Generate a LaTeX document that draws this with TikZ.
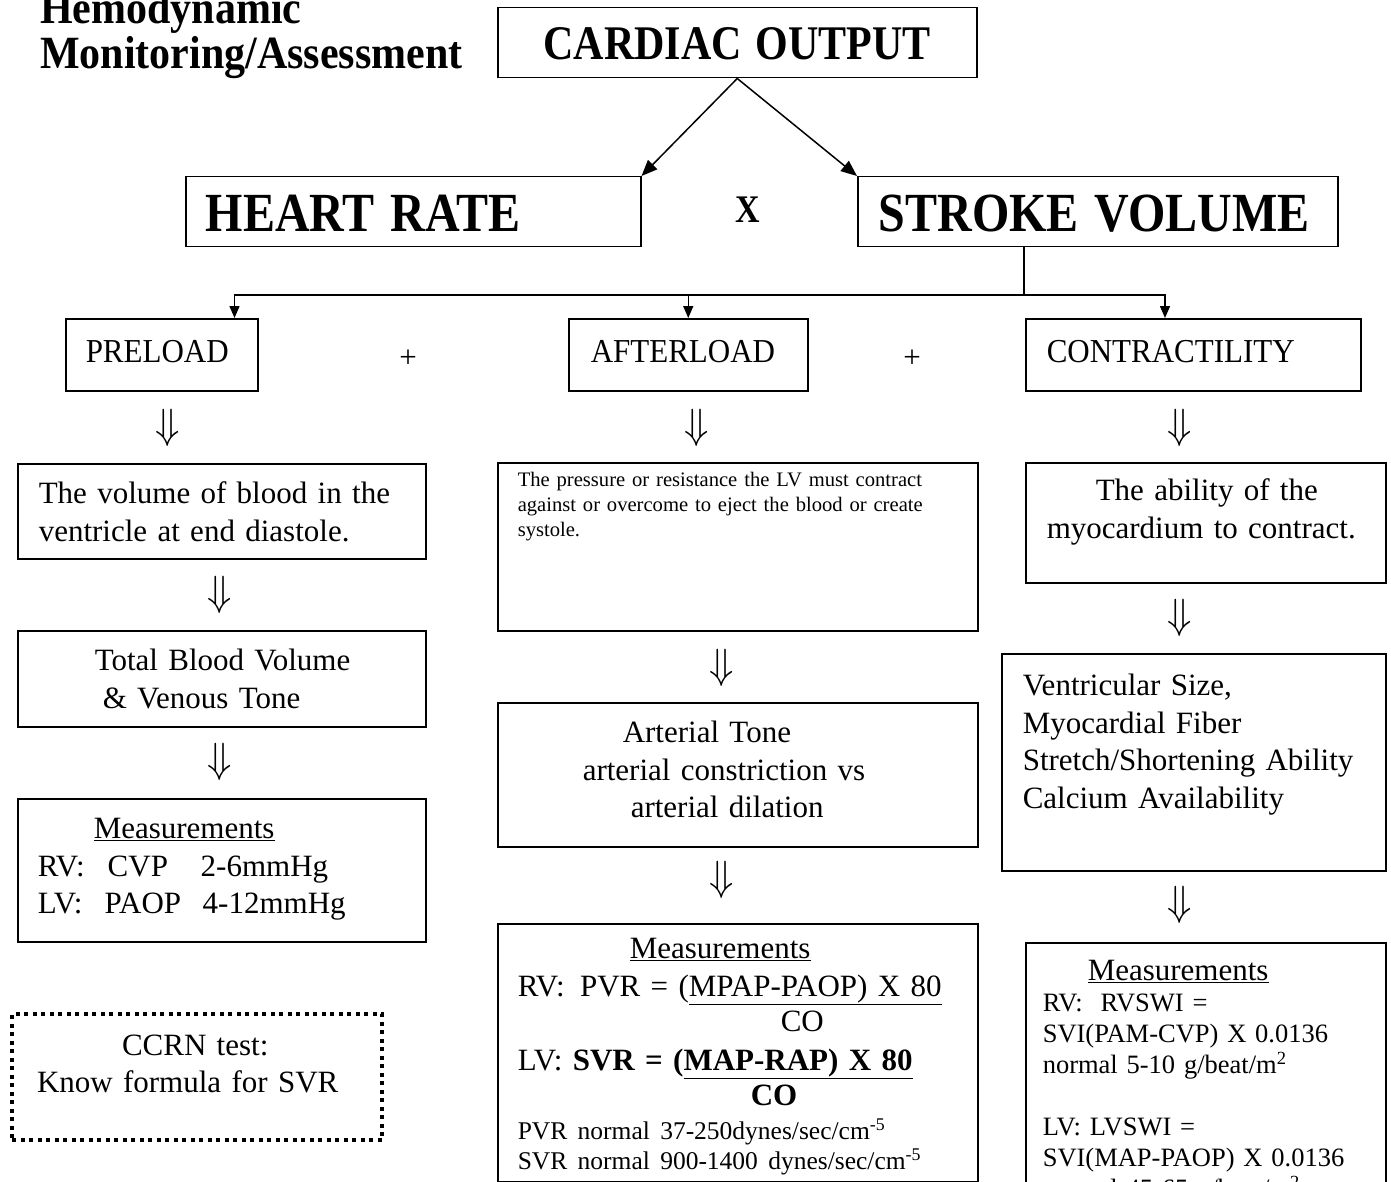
\documentclass[tikz,border=0pt]{standalone}
\usepackage{fontspec}
\setmainfont{Liberation Serif}
\usetikzlibrary{arrows.meta}
\newcommand{\tallText}[2][1.15]{\scalebox{1}[#1]{#2}}

\begin{document}
\begin{tikzpicture}[x=1pt,y=-1pt,
    box/.style={draw, line width=1.5pt, anchor=north west, inner ysep=0pt, align=left,
      font=\fontsize{31}{37.5}\selectfont},
    headbox/.style={box, font=\bfseries\fontsize{48}{52}\selectfont},
    dotbox/.style={box, line width=4pt, dash pattern=on 4pt off 4.5pt},
    dn/.style={inner sep=0pt, font=\fontsize{24.88}{26}\selectfont},
    plain/.style={inner sep=0pt, font=\fontsize{31}{37}\selectfont},
    link/.style={line width=1.5pt, -{Triangle[length=12pt,width=10pt]}},
    bigLink/.style={line width=1.5pt, -{Triangle[length=16pt,width=13pt]}}]
    \useasboundingbox (0,0) rectangle (1391,1182);
    \clip (0,0) rectangle (1391,1182);

    %Title
    \node[anchor=north west, inner sep=0pt, align=left, text width=520pt, text height=23pt,
      font=\bfseries\fontsize{42}{45}\selectfont] (title) at (40,0)
      {\tallText[1.1]{Hemodynamic}\\\tallText[1.1]{Monitoring/Assessment}};

    %Top
    \node[box, align=center, inner xsep=10pt, text width=459pt, text height=52pt, text depth=18pt,
      font=\bfseries\fontsize{42}{46}\selectfont] (co) at (497,7) {\tallText{CARDIAC OUTPUT}};
    \node[headbox, inner xsep=20pt, text width=415pt, text height=55pt, text depth=15pt] (hr) at (185,176) {\tallText{HEART RATE}};
    \node[headbox, inner xsep=21pt, text width=438pt, text height=55pt, text depth=15pt] (sv) at (857,176) {\tallText{STROKE VOLUME}};
    \node[inner sep=0pt, font=\bfseries\fontsize{34}{34}\selectfont] (times) at (748,210) {\tallText{X}};

    \draw[bigLink] (co.south) -- (hr.north east);
    \draw[bigLink] (co.south) -- (sv.north west);

    %Second row
    \node[box, inner xsep=20pt, text width=152pt, text height=44pt, text depth=28pt] (preload) at (65,318) {\tallText[1.08]{PRELOAD}};
    \node[box, inner xsep=22pt, text width=195pt, text height=44pt, text depth=28pt] (afterload) at (568,318) {\tallText[1.08]{AFTERLOAD}};
    \node[box, inner xsep=21pt, text width=293pt, text height=44pt, text depth=28pt] (contract) at (1025,318) {\tallText[1.08]{CONTRACTILITY}};
    \node[plain] (plusA) at (408,359) {+};
    \node[plain] (plusB) at (912,359) {+};

    \coordinate (fork) at (1024,295);
    \draw[line width=1.5pt] (fork |- sv.south) -- (fork);
    \draw[link] (fork) -| ([xshift=-24pt]preload.north east);
    \draw[link] (fork) -| (afterload.north);
    \draw[link] (fork) -| ([xshift=140pt]contract.north west);

    %Left side
    \node[dn] (dnPreA) at (168,428) {\scalebox{1.6}[1.7]{$\Downarrow$}};
    \node[box, inner xsep=21pt, text width=366pt, text height=40pt, text depth=55pt] (preDef) at (17,463)
      {The volume of blood in the\\ventricle at end diastole.};
    \node[dn] (dnPreB) at (220,595) {\scalebox{1.6}[1.7]{$\Downarrow$}};
    \node[box, inner xsep=20pt, text width=368pt, text height=40pt, text depth=56pt] (preTone) at (17,630)
      {\hspace*{57pt}Total Blood Volume\\\hspace*{65pt}\& Venous Tone};
    \node[dn] (dnPreC) at (220,762) {\scalebox{1.6}[1.7]{$\Downarrow$}};
    \node[box, inner xsep=20pt, text width=368pt, text height=40pt, text depth=103pt] (preMeas) at (17,798)
      {\hspace*{56pt}\underline{Measurements}\\
       \makebox[70pt][l]{RV:}\makebox[93pt][l]{CVP}2-6mmHg\\
       \makebox[67pt][l]{LV:}\makebox[98pt][l]{PAOP}4-12mmHg};
    \node[dotbox, inner xsep=10pt, text width=350pt, text height=41pt, text depth=85pt] (ccrn) at (10,1012)
      {\hspace*{100pt}CCRN test:\\\hspace*{15pt}Know formula for SVR};

    %Middle
    \node[dn] (dnAftA) at (697,428) {\scalebox{1.6}[1.7]{$\Downarrow$}};
    \node[box, inner xsep=20pt, text width=440pt, text height=24pt, text depth=144pt,
      font=\fontsize{20.6}{25}\selectfont] (aftDef) at (497,462)
      {The pressure or resistance the LV must contract\\against or overcome to eject the blood or create\\systole.};
    \node[dn] (dnAftB) at (722,668) {\scalebox{1.6}[1.7]{$\Downarrow$}};
    \node[box, inner xsep=20pt, text width=440pt, text height=40pt, text depth=104pt] (aftTone) at (497,702)
      {\hspace*{105pt}Arterial Tone\\\hspace*{65pt}arterial constriction vs\\\hspace*{113pt}arterial dilation};
    \node[dn] (dnAftC) at (722,880) {\scalebox{1.6}[1.7]{$\Downarrow$}};
    \node[box, inner xsep=20pt, text width=440pt, text height=35pt, text depth=223pt] (aftMeas) at (497,923)
      {\hspace*{112pt}\underline{Measurements}\\
       RV:\ \,PVR~=~(\underline{MPAP-PAOP)~X~80}\\[-2pt]
       \hspace*{263pt}CO\\[1pt]
       LV: \textbf{SVR~=~(\underline{MAP-RAP)~X~80}}\\[-2pt]
       \hspace*{233pt}\textbf{CO}\\[-4pt]
       {\fontsize{25.5}{30}\selectfont PVR normal 37-250dynes/sec/cm\textsuperscript{-5}}\\[-7pt]
       {\fontsize{25.5}{30}\selectfont SVR~normal~900-1400~dynes/sec/cm\textsuperscript{-5}}};

    %Right
    \node[dn] (dnConA) at (1180,428) {\scalebox{1.6}[1.7]{$\Downarrow$}};
    \node[box, inner xsep=21pt, text width=318pt, text height=38pt, text depth=82pt] (conDef) at (1025,462)
      {\hspace*{49pt}The ability of the\\myocardium to contract.};
    \node[dn] (dnConB) at (1180,618) {\scalebox{1.6}[1.7]{$\Downarrow$}};
    \node[box, inner xsep=21pt, text width=342pt, text height=42pt, text depth=175pt] (conSize) at (1001,653)
      {Ventricular Size,\\Myocardial Fiber\\Stretch/Shortening~Ability\\Calcium Availability};
    \node[dn] (dnConC) at (1180,905) {\scalebox{1.6}[1.7]{$\Downarrow$}};
    \node[box, inner xsep=17pt, text width=326pt, text height=38pt, text depth=260pt,
      font=\fontsize{26.5}{31}\selectfont] (conMeas) at (1025,942)
      {{\fontsize{31}{37}\selectfont\hspace*{45pt}\underline{Measurements}}\\
       RV:\ \ RVSWI =\\
       SVI(PAM-CVP) X 0.0136\\
       normal 5-10 g/beat/m\textsuperscript{2}\\[31pt]
       LV: LVSWI =\\
       SVI(MAP-PAOP) X 0.0136\\
       normal 45-65 g/beat/m\textsuperscript{2}};
\end{tikzpicture}
\end{document}
